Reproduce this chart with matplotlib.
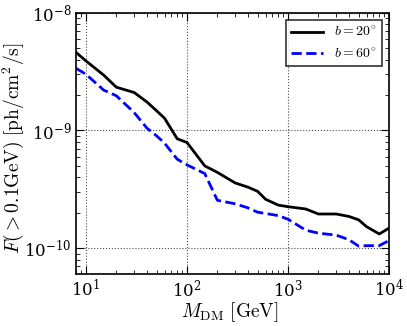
import matplotlib
matplotlib.use('Agg')
import matplotlib.pyplot as plt
from matplotlib.ticker import NullFormatter

# dark matter mass grid [GeV]
mass = [8, 10, 15, 20, 30, 40, 50, 60, 80, 100, 150, 200, 300, 400, 500,
        600, 800, 1000, 1500, 2000, 3000, 4000, 5000, 6000, 8000, 10000]

# flux upper limits, b = 20 deg
flux_b20 = [4.6e-9, 3.9e-9, 2.95e-9, 2.33e-9, 2.1e-9, 1.75e-9, 1.47e-9, 1.27e-9,
            8.5e-10, 7.9e-10, 5.0e-10, 4.4e-10, 3.58e-10, 3.3e-10, 3.04e-10,
            2.6e-10, 2.32e-10, 2.25e-10, 2.15e-10, 1.95e-10, 1.95e-10, 1.86e-10,
            1.74e-10, 1.52e-10, 1.32e-10, 1.48e-10]

# flux upper limits, b = 60 deg
flux_b60 = [3.37e-9, 3.0e-9, 2.2e-9, 1.97e-9, 1.42e-9, 1.05e-9, 9.0e-10, 7.8e-10,
            5.7e-10, 5.1e-10, 4.3e-10, 2.55e-10, 2.38e-10, 2.2e-10, 2.02e-10,
            1.97e-10, 1.89e-10, 1.76e-10, 1.42e-10, 1.34e-10, 1.29e-10, 1.18e-10,
            1.04e-10, 1.05e-10, 1.05e-10, 1.16e-10]

plt.rcParams['mathtext.fontset'] = 'cm'
plt.rcParams['font.family'] = 'serif'
plt.rcParams['font.serif'] = ['DejaVu Serif']
plt.rcParams['xtick.direction'] = 'in'
plt.rcParams['ytick.direction'] = 'in'

fig = plt.figure(figsize=(4.07, 3.26), dpi=100)
ax = fig.add_axes([0.187, 0.16, 0.769, 0.801])

ax.plot(mass, flux_b20, color='black', lw=2, label=r'$b=20^{\circ}$')
ax.plot(mass, flux_b60, color='blue', lw=2, ls='--', label=r'$b=60^{\circ}$')

ax.set_xscale('log')
ax.set_yscale('log')
ax.set_xlim(8, 1e4)
ax.set_ylim(6.05e-11, 1e-8)
ax.xaxis.set_minor_formatter(NullFormatter())
ax.yaxis.set_minor_formatter(NullFormatter())

ax.grid(True, which='major', color='black', ls=':', lw=0.8, alpha=0.7)
ax.tick_params(which='both', top=True, right=True, labelsize=12)
ax.tick_params(which='major', length=6)
ax.tick_params(which='minor', length=3)
for s in ax.spines.values():
    s.set_linewidth(1.2)

ax.set_xlabel(r'$M_{\rm DM}\ [{\rm GeV}]$', fontsize=14)
ax.set_ylabel(r'$F(>0.1{\rm GeV})\ [{\rm ph/cm^2/s}]$', fontsize=14)
ax.xaxis.set_label_coords(0.49, -0.1)
ax.yaxis.set_label_coords(-0.16, 0.48)

leg = ax.legend(loc='upper right', fontsize=10, fancybox=False, handlelength=2.3,
                borderaxespad=0.5)
leg.get_frame().set_edgecolor('black')
leg.get_frame().set_linewidth(1.2)

fig.savefig('out.png', dpi=100)
